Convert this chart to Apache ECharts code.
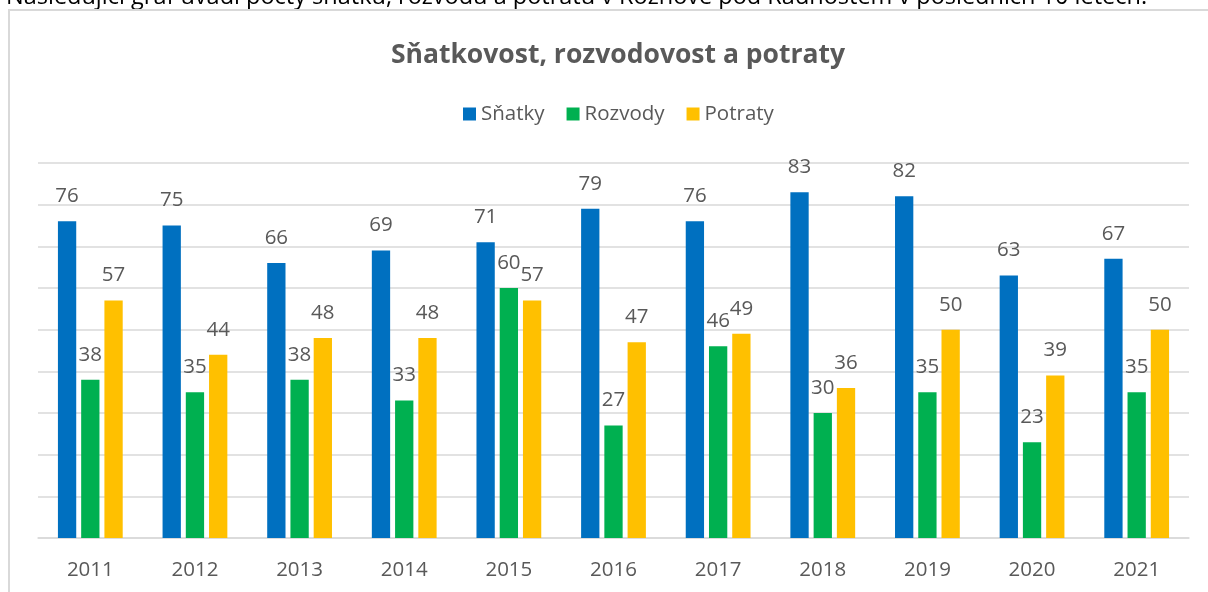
<!DOCTYPE html>
<html lang="cs">
<head>
<meta charset="UTF-8">
<title>Sňatkovost, rozvodovost a potraty</title>
<script src="https://cdn.jsdelivr.net/npm/echarts@6/dist/echarts.min.js"></script>
<style>
  html, body { margin: 0; padding: 0; background: #fff; }
  #chart { width: 1208px; height: 592px; }
</style>
</head>
<body>
<div id="chart"></div>
<script>
const years = ['2011', '2012', '2013', '2014', '2015', '2016', '2017', '2018', '2019', '2020', '2021']
const snatky = [76, 75, 66, 69, 71, 79, 76, 83, 82, 63, 67]
const rozvody = [38, 35, 38, 33, 60, 27, 46, 30, 35, 23, 35]
const potraty = [57, 44, 48, 48, 57, 47, 49, 36, 50, 39, 50]

const font = '"Open Sans", "Noto Sans", sans-serif'
const textGray = '#595959'
const lineGray = '#d9d9d9'

const chart = echarts.init(document.getElementById('chart'))

const barLabel = {
  show: true,
  position: 'top',
  distance: 13,
  color: textGray,
  fontFamily: font,
  fontSize: 20.5,
  lineHeight: 24
}

const option = {
  animation: false,
  textStyle: { fontFamily: font },
  graphic: [
    {
      // kus textu dokumentu nad grafem, oříznutý horním okrajem
      type: 'text',
      left: 6,
      top: -15,
      style: {
        text: 'Následující graf uvádí počty sňatků, rozvodů a potratů v Rožnově pod Radhoštěm v posledních 10 letech.',
        fill: '#000',
        font: '23.5px ' + font
      }
    },
    {
      type: 'rect',
      shape: { x: 9, y: 10, width: 1240, height: 620 },
      style: { fill: 'none', stroke: lineGray, lineWidth: 2 }
    }
  ],
  title: {
    text: 'Sňatkovost, rozvodovost a potraty',
    left: 613,
    textAlign: 'center',
    top: 33,
    textStyle: {
      color: textGray,
      fontFamily: font,
      fontWeight: 'bold',
      fontSize: 26.5,
      lineHeight: 34
    }
  },
  legend: {
    data: ['Sňatky', 'Rozvody', 'Potraty'],
    left: 458,
    top: 97,
    icon: 'rect',
    itemWidth: 13,
    itemHeight: 13,
    itemGap: 22,
    textStyle: {
      color: textGray,
      fontFamily: font,
      fontSize: 20.5,
      lineHeight: 24
    }
  },
  grid: {
    left: 38,
    right: 19,
    top: 163,
    bottom: 54
  },
  xAxis: {
    type: 'category',
    data: years,
    axisTick: { show: false },
    axisLine: { lineStyle: { color: lineGray, width: 1.5 } },
    axisLabel: {
      color: textGray,
      fontFamily: font,
      fontSize: 20.5,
      lineHeight: 24,
      margin: 20
    }
  },
  yAxis: {
    type: 'value',
    min: 0,
    max: 90,
    interval: 10,
    axisLabel: { show: false },
    axisLine: { show: false },
    axisTick: { show: false },
    splitLine: { lineStyle: { color: lineGray, width: 1.5 } }
  },
  series: [
    {
      name: 'Sňatky',
      type: 'bar',
      data: snatky,
      barWidth: 18.3,
      barGap: '27%',
      itemStyle: { color: '#0070c0' },
      label: barLabel
    },
    {
      name: 'Rozvody',
      type: 'bar',
      data: rozvody,
      barWidth: 18.3,
      barGap: '27%',
      itemStyle: { color: '#00b050' },
      label: barLabel
    },
    {
      name: 'Potraty',
      type: 'bar',
      data: potraty,
      barWidth: 18.3,
      barGap: '27%',
      itemStyle: { color: '#ffc000' },
      label: barLabel
    }
  ]
}

chart.setOption(option)
</script>
</body>
</html>
